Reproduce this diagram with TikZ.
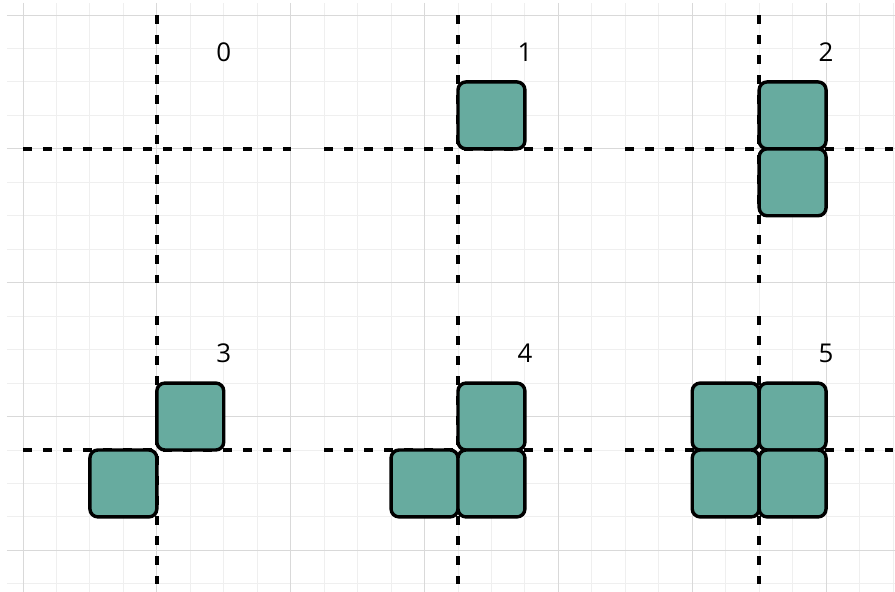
\documentclass[tikz,border=0pt]{standalone}
\usepackage{fontspec}
\setmainfont{Open Sans}
\usetikzlibrary{positioning}
\definecolor{gridminor}{HTML}{EFEFEF}
\definecolor{gridmajor}{HTML}{D9D9D9}
\definecolor{blockgreen}{HTML}{67AB9F}

\begin{document}
\begin{tikzpicture}[x=1cm,y=1cm,
  cell/.style={draw=black,line width=2.9pt,fill=blockgreen,rounded corners=0.24cm,
    minimum size=2cm,inner sep=0pt},
  axisline/.style={line width=3pt,dash pattern=on 7.8pt off 9.2pt},
  num/.style={font=\fontsize{22}{22}\selectfont}]
  \useasboundingbox (-0.687,0.448) rectangle (26.06,-17.24);
  % background grid
  \foreach \i in {0,...,26}{\draw[gridminor,line width=0.8pt] (\i,0.36) -- (\i,-17.3);}
  \foreach \j in {0,...,17}{\draw[gridminor,line width=0.8pt] (-0.48,-\j) -- (26.2,-\j);}
  \foreach \i in {0,4,...,24}{\draw[gridmajor,line width=0.8pt] (\i,0.36) -- (\i,-17.3);}
  \foreach \j in {0,4,...,16}{\draw[gridmajor,line width=0.8pt] (-0.48,-\j) -- (26.2,-\j);}
  % dashed axes of the six panels
  \foreach \ox/\oy in {4/-4,13/-4,22/-4,4/-13,13/-13,22/-13}{
    \draw[axisline] (\ox-4,\oy) -- (\ox+4,\oy);
    \draw[axisline] (\ox,\oy+4) -- (\ox,\oy-4);
  }
  % panel 1
  \node[cell] (b1a) at (14,-3) {};
  % panel 2
  \node[cell] (b2a) at (23,-3) {};
  \node[cell] (b2b) at (23,-5) {};
  % panel 3
  \node[cell] (b3a) at (5,-12) {};
  \node[cell] (b3b) at (3,-14) {};
  % panel 4
  \node[cell] (b4a) at (14,-12) {};
  \node[cell] (b4b) at (12,-14) {};
  \node[cell] (b4c) at (14,-14) {};
  % panel 5
  \node[cell] (b5a) at (21,-12) {};
  \node[cell] (b5b) at (23,-12) {};
  \node[cell] (b5c) at (21,-14) {};
  \node[cell] (b5d) at (23,-14) {};
  % labels
  \node[num] (n0) at (6,-1.1) {0};
  \node[num] (n1) at (15,-1.1) {1};
  \node[num] (n2) at (24,-1.1) {2};
  \node[num] (n3) at (6,-10.1) {3};
  \node[num] (n4) at (15,-10.1) {4};
  \node[num] (n5) at (24,-10.1) {5};
\end{tikzpicture}
\end{document}
